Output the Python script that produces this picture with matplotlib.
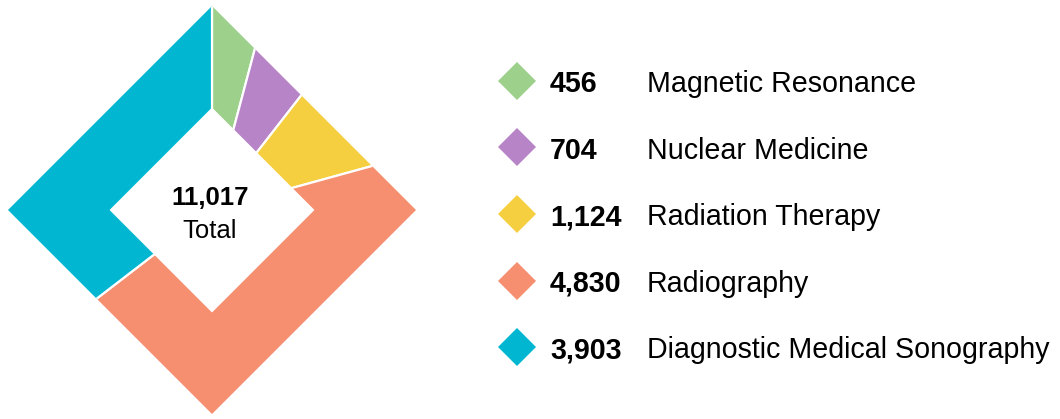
import matplotlib.pyplot as plt
from matplotlib.patches import Polygon

# data
categories = ["Magnetic Resonance", "Nuclear Medicine", "Radiation Therapy",
              "Radiography", "Diagnostic Medical Sonography"]
values = [456, 704, 1124, 4830, 3903]
colors = ["#9dd08a", "#b784c8", "#f5cf3f", "#f58f6f", "#00b6d0"]

plt.rcParams['font.family'] = ['Liberation Sans', 'DejaVu Sans']

W, H = 1060, 419
fig = plt.figure(figsize=(W / 100, H / 100), dpi=100)

# diamond donut: a pie clipped to a diamond, with a diamond hole
cx, cy, r_out, r_in = 212, 210, 204, 102
ax = fig.add_axes([0, 0, 424 / W, 1])
wedges, _ = ax.pie(values, colors=colors, startangle=90, counterclock=False,
                   radius=1.2, wedgeprops=dict(edgecolor='white', linewidth=1.6))
outer = Polygon([(0, 1), (1, 0), (0, -1), (-1, 0)], closed=True,
                transform=ax.transData, facecolor='none', edgecolor='none')
for w in wedges:
    w.set_clip_on(True)
    w.set_clip_path(outer)
hole = r_in / r_out
ax.add_patch(Polygon([(0, hole), (hole, 0), (0, -hole), (-hole, 0)], closed=True,
                     facecolor='white', edgecolor='white', linewidth=0.5, zorder=5))
ax.set_xlim(-cx / r_out, (424 - cx) / r_out)
ax.set_ylim(-(H - cy) / r_out, cy / r_out)
ax.set_aspect('auto')
ax.axis('off')

total = sum(values)
fig.text(210 / W, 1 - 205 / H, f"{total:,}", fontsize=18.5, fontweight='bold',
         ha='center', va='baseline', zorder=10)
fig.text(210 / W, 1 - 238 / H, "Total", fontsize=18.5,
         ha='center', va='baseline', zorder=10)

# legend
lax = fig.add_axes([0, 0, 1, 1])
lax.set_xlim(0, W)
lax.set_ylim(H, 0)
lax.axis('off')
for i, (cat, val, col) in enumerate(zip(categories, values, colors)):
    y = 81 + 66.5 * i
    lax.plot(517, y, marker='D', markersize=19.6, color=col, markeredgewidth=0)
    lax.text(550, y + 11, f"{val:,}", fontsize=20.6, fontweight='bold',
             ha='left', va='baseline')
    lax.text(647, y + 11, cat, fontsize=20.6, ha='left', va='baseline')

fig.savefig('out.png', dpi=100)
